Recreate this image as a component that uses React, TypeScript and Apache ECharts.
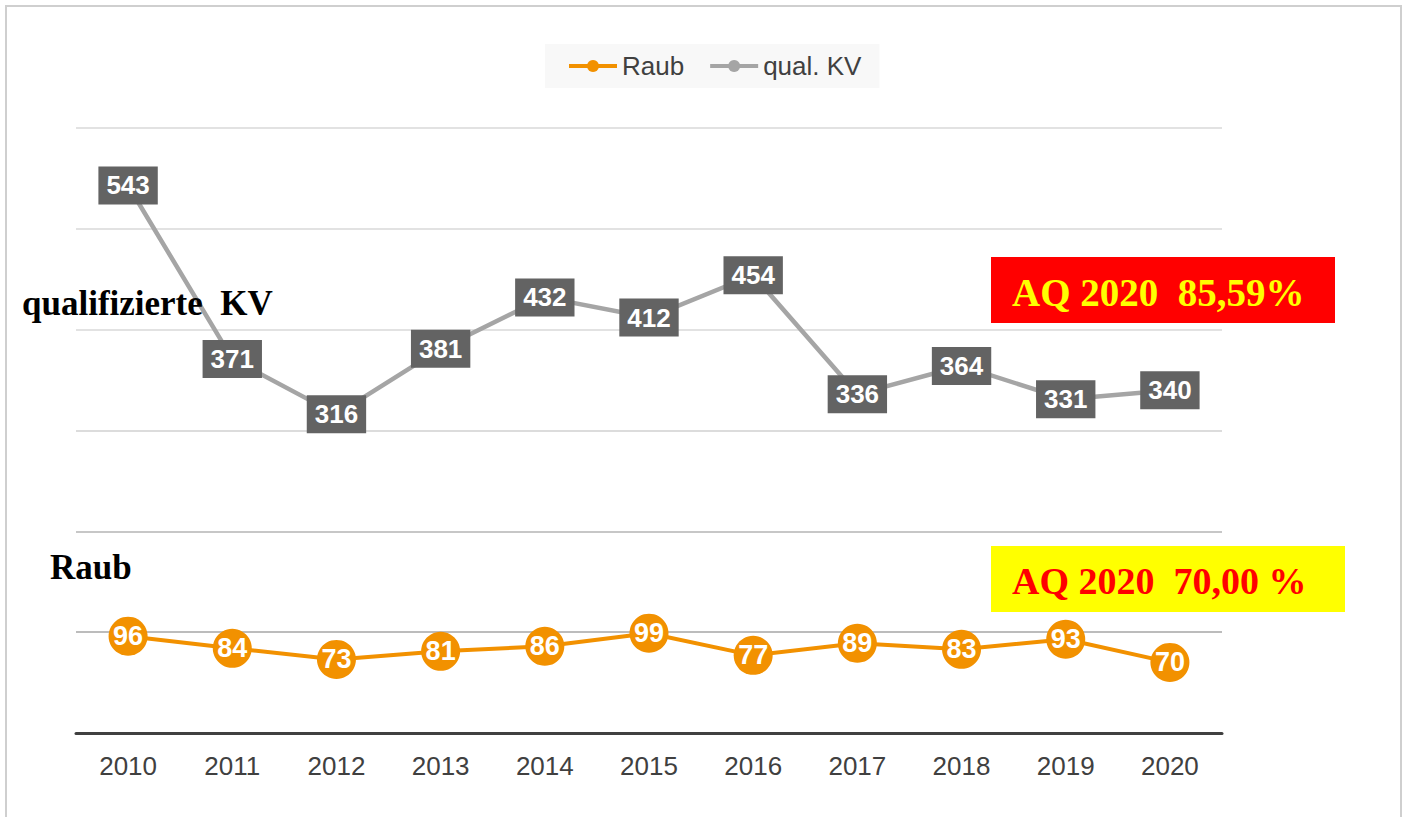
import React, { useEffect, useRef } from "react";
import * as echarts from "echarts";

const years = ["2010", "2011", "2012", "2013", "2014", "2015", "2016", "2017", "2018", "2019", "2020"];
const raub = [96, 84, 73, 81, 86, 99, 77, 89, 83, 93, 70];
const qualKV = [543, 371, 316, 381, 432, 412, 454, 336, 364, 331, 340];
const seriesNames = ["Raub", "qual. KV"];
const sideLabels = ["qualifizierte  KV", "Raub"];
const aqTexts = ["AQ 2020  85,59%", "AQ 2020  70,00 %"];

export default function App() {
  const ref = useRef<HTMLDivElement>(null);
  useEffect(() => {
    if (!ref.current) return;
    const chart = echarts.init(ref.current, null, { renderer: "svg" });
    const serif = "'Liberation Serif', 'Times New Roman', serif";
    const sans = "'Liberation Sans', Arial, sans-serif";
    chart.setOption({
      animation: false,
      backgroundColor: "#ffffff",
      textStyle: { fontFamily: sans },
      legend: {
        data: seriesNames,
        top: 44,
        left: 545,
        backgroundColor: "#f8f8f8",
        padding: [9, 18, 9, 22],
        itemWidth: 48,
        itemHeight: 15,
        itemGap: 24,
        lineStyle: { width: 4 },
        textStyle: { fontSize: 26, color: "#404040", fontFamily: sans },
      },
      grid: { left: 76, right: 185, top: 128, bottom: 84 },
      xAxis: {
        type: "category",
        data: years,
        boundaryGap: true,
        axisLine: { lineStyle: { color: "#404040", width: 3 } },
        axisTick: { show: false },
        axisLabel: { fontSize: 26, color: "#404040", margin: 20, fontFamily: sans },
      },
      yAxis: {
        type: "value",
        min: 0,
        max: 600,
        interval: 100,
        axisLabel: { show: false },
        axisLine: { show: false },
        axisTick: { show: false },
        splitLine: {
          lineStyle: {
            color: ["#d9d9d9", "#a6a6a6", "#b4b4b4", "#d0d0d0", "#d9d9d9", "#d9d9d9", "#d9d9d9"],
            width: 1.5,
          },
        },
      },
      series: [
        {
          name: seriesNames[0],
          type: "line",
          data: raub,
          color: "#f29100",
          lineStyle: { color: "#f29100", width: 4 },
          symbol: "circle",
          symbolSize: 39,
          itemStyle: { color: "#f29100" },
          label: {
            show: true,
            position: "inside",
            color: "#ffffff",
            fontSize: 27,
            fontWeight: "bold",
            fontFamily: sans,
          },
          z: 3,
        },
        {
          name: seriesNames[1],
          type: "line",
          data: qualKV,
          color: "#a5a5a5",
          lineStyle: { color: "#a5a5a5", width: 4.5 },
          symbol: "circle",
          symbolSize: 16,
          itemStyle: { color: "#a5a5a5" },
          label: {
            show: true,
            position: "inside",
            color: "#ffffff",
            fontSize: 26,
            fontWeight: "bold",
            fontFamily: sans,
            backgroundColor: "#636363",
            padding: [7, 8, 5, 8],
          },
          z: 3,
        },
      ],
      graphic: [
        {
          type: "rect",
          shape: { x: 6, y: 6, width: 1395, height: 840 },
          style: { fill: "none", stroke: "#cfcfcf", lineWidth: 2 },
          silent: true,
          z: -10,
        },
        {
          type: "text",
          x: 22,
          y: 303,
          style: { text: sideLabels[0], font: `bold 35px ${serif}`, fill: "#000000", verticalAlign: "middle" },
          z: 10,
        },
        {
          type: "text",
          x: 50,
          y: 567,
          style: { text: sideLabels[1], font: `bold 35px ${serif}`, fill: "#000000", verticalAlign: "middle" },
          z: 10,
        },
        {
          type: "rect",
          shape: { x: 991, y: 257, width: 344, height: 66 },
          style: { fill: "#ff0000" },
          z: 10,
        },
        {
          type: "text",
          x: 1012,
          y: 292,
          style: { text: aqTexts[0], font: `bold 39px ${serif}`, fill: "#ffff00", verticalAlign: "middle" },
          z: 11,
        },
        {
          type: "rect",
          shape: { x: 991, y: 546, width: 354, height: 66 },
          style: { fill: "#ffff00" },
          z: 10,
        },
        {
          type: "text",
          x: 1012,
          y: 581,
          style: { text: aqTexts[1], font: `bold 38px ${serif}`, fill: "#ff0000", verticalAlign: "middle" },
          z: 11,
        },
      ],
    });
    return () => chart.dispose();
  }, []);
  return (
    <div
      ref={ref}
      style={{ position: "absolute", left: 0, top: 0, width: 1407, height: 817 }}
    />
  );
}
